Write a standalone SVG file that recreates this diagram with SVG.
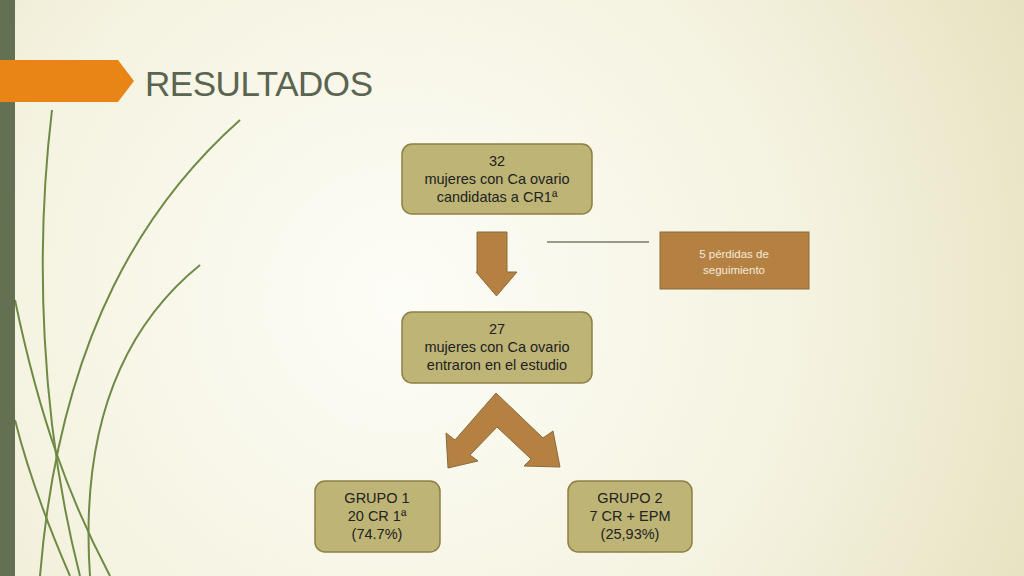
<svg xmlns="http://www.w3.org/2000/svg" width="1024" height="576" viewBox="0 0 1024 576">
<defs>
<radialGradient id="bg" cx="400" cy="300" r="700" gradientUnits="userSpaceOnUse">
<stop offset="0" stop-color="#fdfdf7"/><stop offset="0.6" stop-color="#f4f2df"/><stop offset="1" stop-color="#e6e2c0"/>
</radialGradient>
<style>
.box{fill:#bdb476;stroke:#8f7f45;stroke-width:1.5}
.t{font-family:"Liberation Sans",sans-serif;font-size:14.5px;fill:#222;text-anchor:middle}
.w{font-family:"Liberation Sans",sans-serif;font-size:11.5px;fill:#f3ead8;text-anchor:middle}
.arr{fill:#b58143;stroke:#8a6a3a;stroke-width:1}
.deco{fill:none;stroke:#6f8a45;stroke-width:2}
</style>
</defs>
<rect width="1024" height="576" fill="url(#bg)"/>
<g id="decor">
<path class="deco" d="M52,110 C35,250 40,420 80,576" stroke-width="2"/>
<path class="deco" d="M15,300 C40,420 70,500 110,576" stroke-width="3" stroke="#5f7a3a"/>
<path class="deco" d="M200,265 C120,330 80,430 90,576" stroke-width="2.5"/>
<path class="deco" d="M240,120 C150,200 60,330 40,576" stroke="#c9cfb0" stroke-width="1.5"/>
<path class="deco" d="M15,420 C30,480 50,530 70,576" stroke-width="2"/>
</g>
<rect x="0" y="0" width="15" height="576" fill="#637052"/>
<polygon points="0,60 118,60 134,81 118,102 0,102" fill="#e88516"/>
<text x="145" y="96" font-family="'Liberation Sans',sans-serif" font-size="35" fill="#5a6450" textLength="228">RESULTADOS</text>
<g id="connectors">
<polygon class="arr" points="477,232 507,232 507,272 517,272 496.5,296 476,272 477,272"/>
<line x1="547" y1="242" x2="649" y2="242" stroke="#7a7a6a" stroke-width="1.5"/>
<polygon class="arr" points="496,393 543,438 553,431 560,467 524,466 531,459 497,427 470,455 478,461 448,468 446,433 455,440"/>
</g>
<g id="n1"><rect class="box" x="402" y="144" width="190" height="70" rx="10"/>
<text class="t" x="497" y="166">32</text><text class="t" x="497" y="184">mujeres con Ca ovario</text><text class="t" x="497" y="202">candidatas a CR1ª</text></g>
<g id="n2"><rect x="660" y="232" width="149" height="57" fill="#b58143" stroke="#8a6a3a"/>
<text class="w" x="734" y="258">5 pérdidas de</text><text class="w" x="734" y="274">seguimiento</text></g>
<g id="n3"><rect class="box" x="402" y="312" width="190" height="71" rx="10"/>
<text class="t" x="497" y="334">27</text><text class="t" x="497" y="352">mujeres con Ca ovario</text><text class="t" x="497" y="370">entraron en el estudio</text></g>
<g id="n4"><rect class="box" x="315" y="481" width="125" height="71" rx="10"/>
<text class="t" x="377" y="503">GRUPO 1</text><text class="t" x="377" y="521">20  CR 1ª</text><text class="t" x="377" y="539">(74.7%)</text></g>
<g id="n5"><rect class="box" x="568" y="481" width="124" height="71" rx="10"/>
<text class="t" x="630" y="503">GRUPO 2</text><text class="t" x="630" y="521">7 CR + EPM</text><text class="t" x="630" y="539">(25,93%)</text></g>
</svg>
